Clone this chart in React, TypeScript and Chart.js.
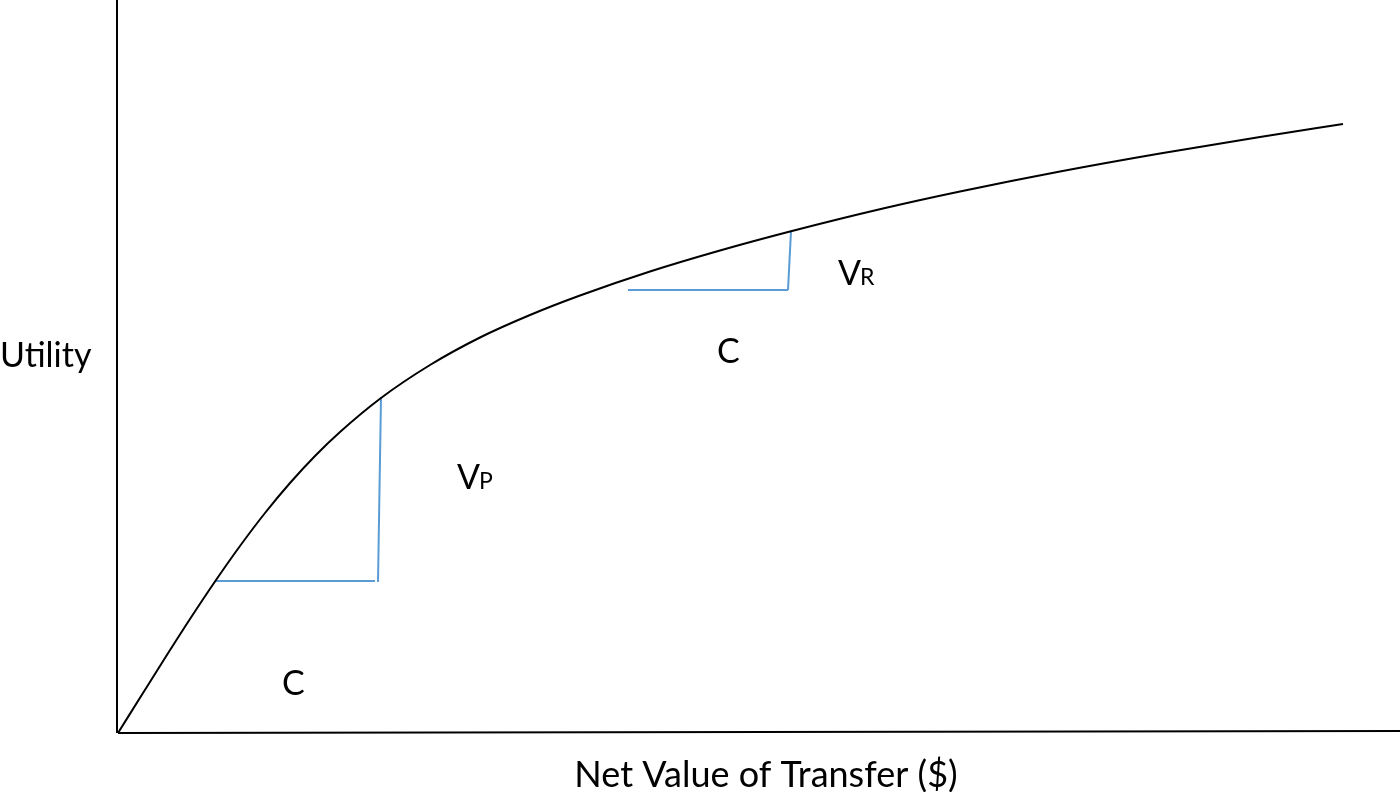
import React, { useEffect, useRef } from "react";
import { Chart, registerables } from "chart.js";

Chart.register(...registerables);

// Utility curve, in chart units (x: net value, y: utility)
const curveX = [0, 25, 47, 72, 97, 122, 147, 172, 197, 222, 263, 312, 362, 412, 462, 532, 602, 672, 765, 842, 942, 1042, 1142, 1225];
const curveY = [0, 40, 75, 114, 151.5, 187, 220, 250, 277, 301, 335, 368, 395.5, 418, 437.5, 461.5, 482.5, 501.5, 524.5, 541.5, 561.5, 579.5, 596, 609];

// Axes
const xAxisX = [0, 1282];
const xAxisY = [0, 2];
const yAxisX = [-1, -1];
const yAxisY = [0, 733];

// Blue segments (cost C and value V steps)
const segP_H_X = [97, 257];
const segP_H_Y = [152, 152];
const segP_V_X = [260, 263];
const segP_V_Y = [151, 336];
const segR_H_X = [510, 670];
const segR_H_Y = [443, 443];
const segR_V_X = [670, 673];
const segR_V_Y = [443, 502];

// Annotation labels (main text, subscript, position)
const labelMain = ["C", "V", "C", "V"];
const labelSub = ["", "P", "", "R"];
const labelX = [164, 339, 599, 720];
const labelY = [38, 244, 370, 448];

const axisXTitle = "Net Value of Transfer ($)";
const axisYTitle = "Utility";

const FONT = "Lato, 'Open Sans', sans-serif";
const BLUE = "#5B9BD5";

function pts(xs: number[], ys: number[]) {
  return xs.map((x, i) => ({ x, y: ys[i] }));
}

export default function App() {
  const ref = useRef<HTMLCanvasElement | null>(null);

  useEffect(() => {
    document.body.style.margin = "0";
    const canvas = ref.current;
    if (!canvas) return;

    const labelPlugin = {
      id: "labels",
      afterDatasetsDraw(chart: any) {
        const ctx = chart.ctx;
        const xs = chart.scales.x;
        const ys = chart.scales.y;
        const area = chart.chartArea;
        ctx.save();
        ctx.fillStyle = "#000";
        ctx.textBaseline = "alphabetic";
        const mainSize = 34;
        const subSize = 23;
        for (let i = 0; i < labelMain.length; i++) {
          const px = xs.getPixelForValue(labelX[i]);
          const py = ys.getPixelForValue(labelY[i]);
          ctx.font = `${mainSize}px ${FONT}`;
          ctx.textAlign = "left";
          ctx.fillText(labelMain[i], px, py);
          if (labelSub[i]) {
            const w = ctx.measureText(labelMain[i]).width;
            ctx.font = `${subSize}px ${FONT}`;
            ctx.fillText(labelSub[i], px + w - 1, py);
          }
        }
        ctx.font = `36px ${FONT}`;
        ctx.textAlign = "center";
        ctx.fillText(axisXTitle, 766, area.bottom + 54);
        ctx.font = `${mainSize}px ${FONT}`;
        ctx.textAlign = "left";
        ctx.fillText(axisYTitle, 0, 367);
        ctx.restore();
      },
    };

    const lineDs = (xs: number[], ys: number[], color: string, width: number) => ({
      data: pts(xs, ys),
      borderColor: color,
      borderWidth: width,
      pointRadius: 0,
      tension: 0,
      clip: false as any,
      fill: false,
    });

    const chart = new Chart(canvas, {
      type: "line",
      data: {
        datasets: [
          lineDs(xAxisX, xAxisY, "#000", 2),
          lineDs(yAxisX, yAxisY, "#000", 2),
          {
            ...lineDs(curveX, curveY, "#000", 2),
            cubicInterpolationMode: "monotone",
          } as any,
          lineDs(segP_H_X, segP_H_Y, BLUE, 2),
          lineDs(segP_V_X, segP_V_Y, BLUE, 2),
          lineDs(segR_H_X, segR_H_Y, BLUE, 2),
          lineDs(segR_V_X, segR_V_Y, BLUE, 2),
        ],
      },
      options: {
        animation: false,
        responsive: false,
        maintainAspectRatio: false,
        layout: { padding: { left: 118, right: 0, top: 0, bottom: 59 } },
        plugins: {
          legend: { display: false },
          tooltip: { enabled: false },
          title: { display: false },
        },
        scales: {
          x: { type: "linear", min: 0, max: 1282, display: false },
          y: { type: "linear", min: 0, max: 733, display: false },
        },
      },
      plugins: [labelPlugin],
    });

    return () => chart.destroy();
  }, []);

  return (
    <div style={{ width: 1400, height: 792, background: "#fff" }}>
      <canvas ref={ref} width={1400} height={792} style={{ display: "block" }} />
    </div>
  );
}
